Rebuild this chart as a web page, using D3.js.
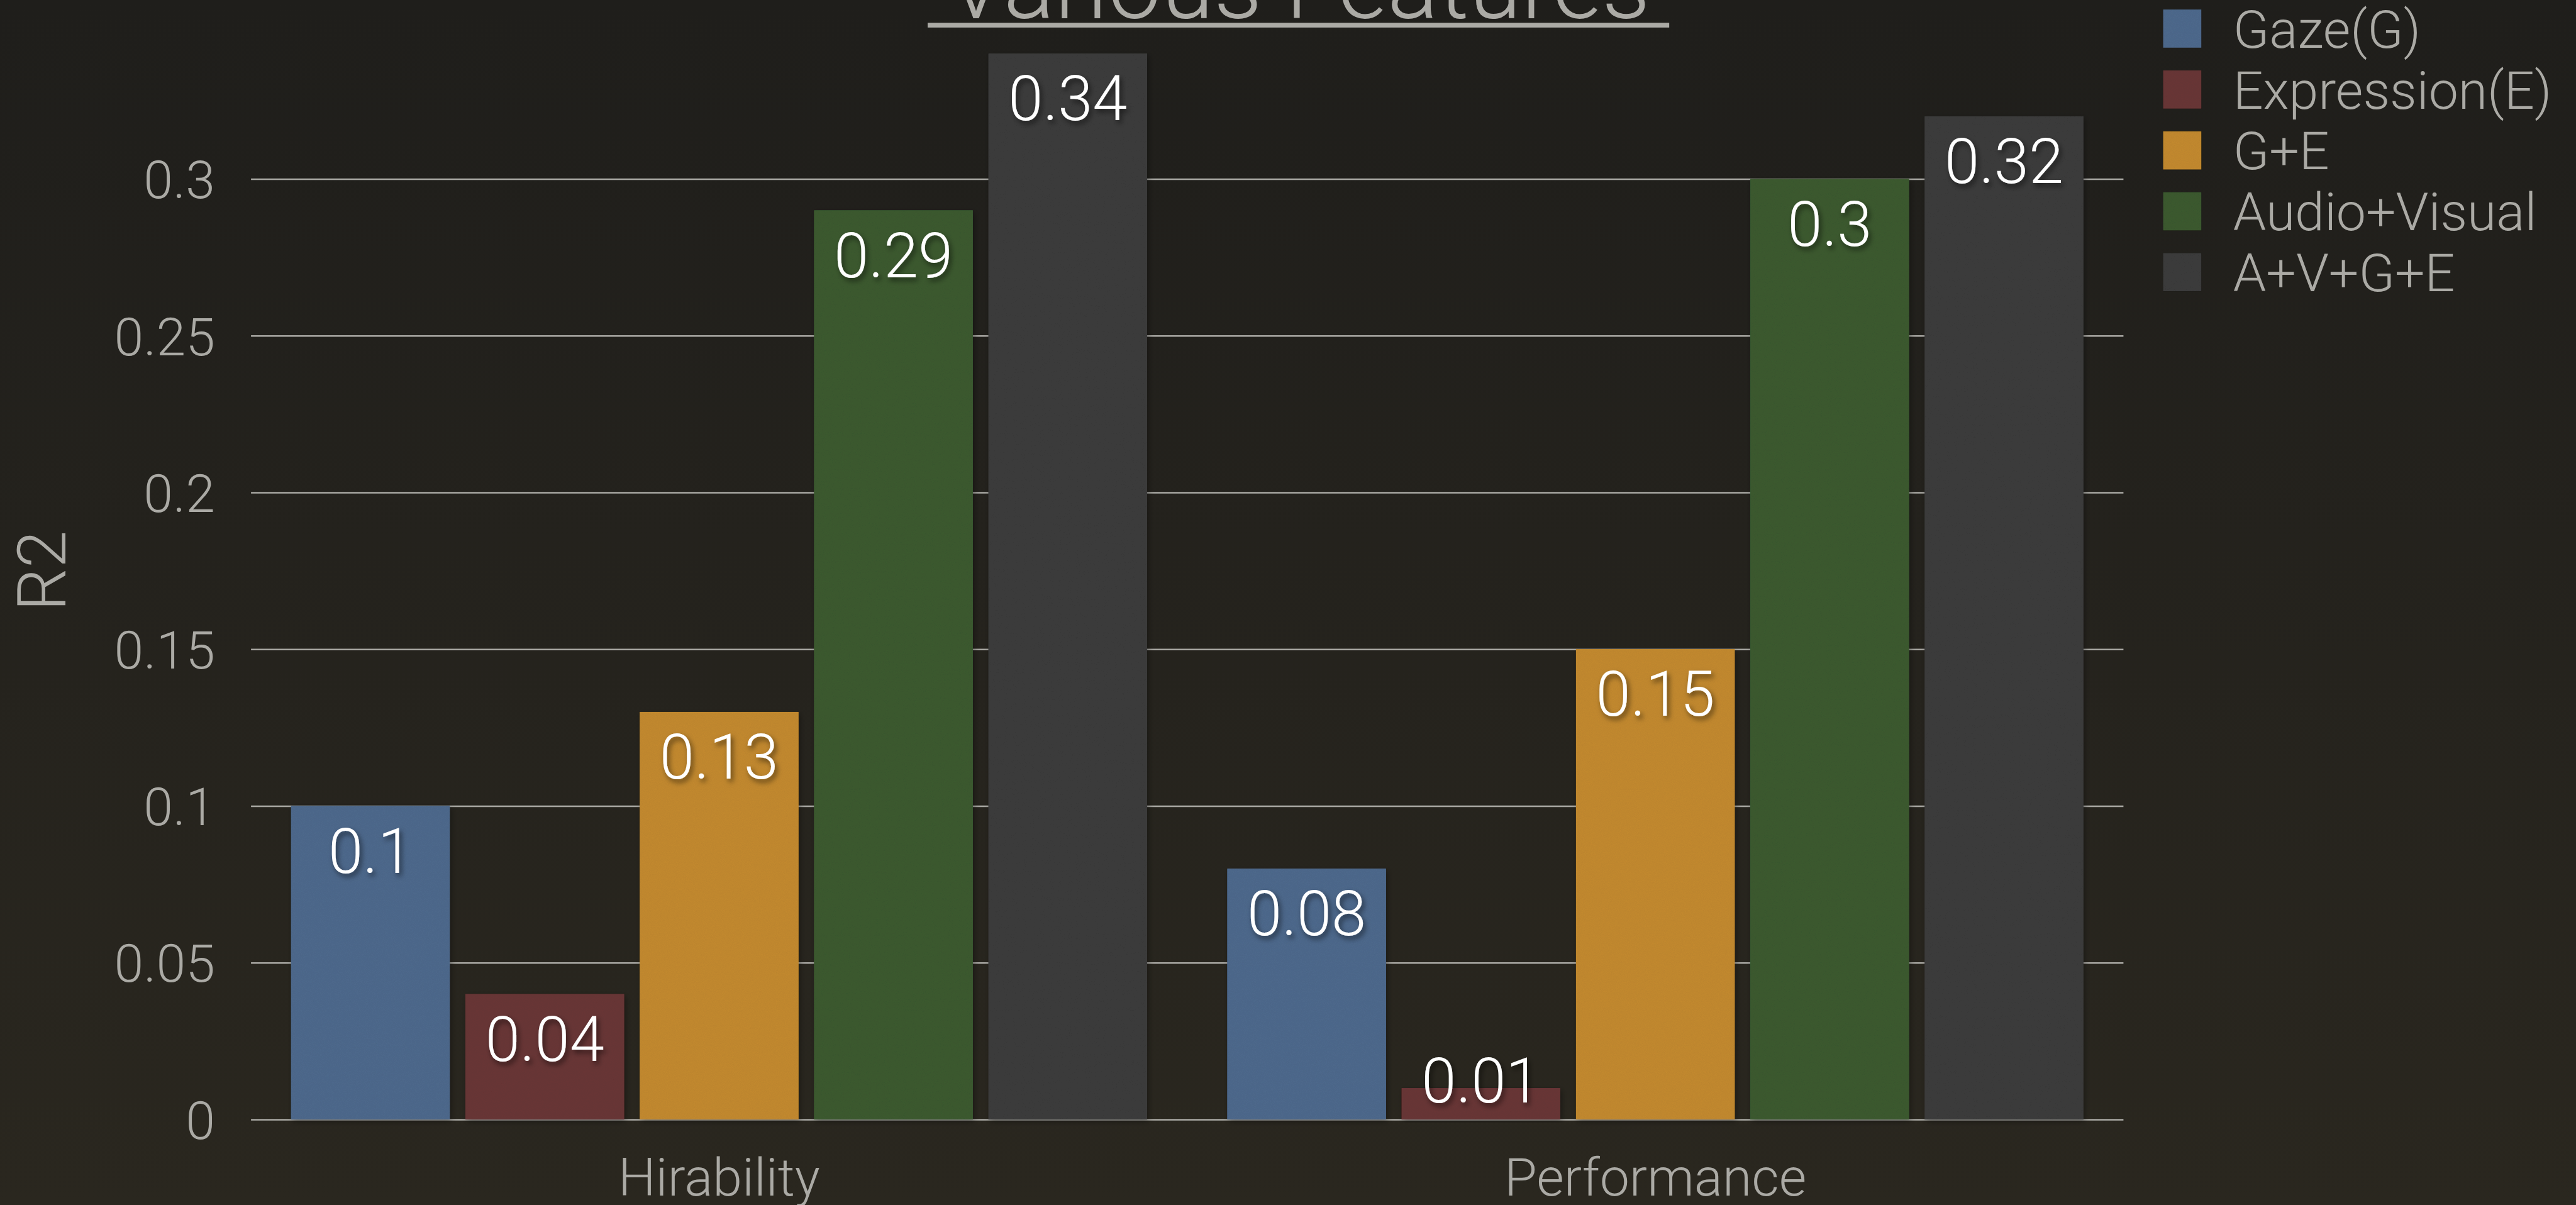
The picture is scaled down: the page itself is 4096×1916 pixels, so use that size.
<!DOCTYPE html>
<html>
<head>
<meta charset="utf-8">
<script src="https://cdn.jsdelivr.net/npm/d3@7"></script>
<style>
  html, body { margin: 0; padding: 0; background: #22211d; overflow: hidden; }
  svg { display: block; }
  text { font-family: Roboto, "Helvetica Neue", "Liberation Sans", sans-serif; font-weight: 300; }
</style>
</head>
<body>
<svg id="chart" width="4096" height="1916"></svg>
<script>
// chart data
var groups = ["Hirability", "Performance"];
var series = ["Gaze(G)", "Expression(E)", "G+E", "Audio+Visual", "A+V+G+E"];
var hirability = [0.1, 0.04, 0.13, 0.29, 0.34];
var performance = [0.08, 0.01, 0.15, 0.3, 0.32];
var seriesColors = ["#4f6a8e", "#6b3738", "#c58b31", "#3c5c33", "#3e3e3e"];
var yTicks = [0, 0.05, 0.1, 0.15, 0.2, 0.25, 0.3];
var title = "Various Features";
var yLabel = "R2";

var valuesByGroup = { "Hirability": hirability, "Performance": performance };

// everything is laid out in the reference's 4860x2273 space, then scaled down
var k = 0.842,
    plotLeft = 474, plotRight = 4010,
    plotTop = 338, plotBottom = 2114,
    textColor = "#abaaa5";

var svg = d3.select("#chart");
var defs = svg.append("defs");

var bg = defs.append("linearGradient").attr("id", "bg")
    .attr("x1", 0).attr("y1", 0).attr("x2", 0).attr("y2", 1);
bg.append("stop").attr("offset", "0%").attr("stop-color", "#1f1e1b");
bg.append("stop").attr("offset", "100%").attr("stop-color", "#2a271f");

var shadow = defs.append("filter").attr("id", "shadow")
    .attr("x", "-20%").attr("y", "-20%").attr("width", "140%").attr("height", "140%");
shadow.append("feDropShadow").attr("dx", 4).attr("dy", 6).attr("stdDeviation", 5)
    .attr("flood-color", "#000").attr("flood-opacity", 0.55);

var barShadow = defs.append("filter").attr("id", "barShadow")
    .attr("x", "-10%").attr("y", "-10%").attr("width", "120%").attr("height", "120%");
barShadow.append("feDropShadow").attr("dx", 3).attr("dy", 4).attr("stdDeviation", 6)
    .attr("flood-color", "#000").attr("flood-opacity", 0.35);

// paper-ish texture on the bars
var grain = defs.append("filter").attr("id", "grain");
grain.append("feTurbulence").attr("type", "fractalNoise").attr("baseFrequency", 0.9)
    .attr("numOctaves", 2).attr("seed", 3).attr("result", "noise");
grain.append("feColorMatrix").attr("in", "noise").attr("type", "matrix")
    .attr("values", "0 0 0 0 0  0 0 0 0 0  0 0 0 0 0  0 0 0 0.12 0").attr("result", "dark");
grain.append("feComposite").attr("in", "dark").attr("in2", "SourceGraphic").attr("operator", "in").attr("result", "dk");
grain.append("feMerge").selectAll("feMergeNode").data(["SourceGraphic", "dk"])
    .enter().append("feMergeNode").attr("in", function (d) { return d; });

svg.append("rect").attr("width", 4096).attr("height", 1916).attr("fill", "url(#bg)");

var g = svg.append("g").attr("transform", "scale(" + k + ")");

var x0 = d3.scaleBand()
    .domain(groups)
    .range([plotLeft, plotRight]);

var x1 = d3.scaleBand()
    .domain(series)
    .range([0, x0.bandwidth()])
    .paddingInner(0.09)
    .paddingOuter(0.23);

var y = d3.scaleLinear()
    .domain([0, 0.3])
    .range([plotBottom, plotTop]);

// grid + tick labels
var axis = g.append("g")
    .attr("transform", "translate(" + plotLeft + ",0)")
    .call(d3.axisLeft(y)
        .tickValues(yTicks)
        .tickSize(-(plotRight - plotLeft))
        .tickPadding(68)
        .tickFormat(function (d) { return String(d); }));

axis.select(".domain").remove();
axis.selectAll(".tick line")
    .attr("stroke", "#a9a8a3")
    .attr("stroke-width", 3);
axis.selectAll(".tick text")
    .attr("fill", textColor)
    .attr("font-size", 100)
    .attr("dy", "0.36em")
    .style("font-family", "Roboto, 'Helvetica Neue', sans-serif")
    .style("font-weight", 300);

// bars
var groupG = g.selectAll(".group")
    .data(groups)
    .enter().append("g")
    .attr("class", "group")
    .attr("transform", function (d) { return "translate(" + x0(d) + ",0)"; });

var bars = groupG.selectAll(".bar")
    .data(function (grp) {
        return series.map(function (s, i) { return { group: grp, key: s, i: i, value: valuesByGroup[grp][i] }; });
    })
    .enter().append("g").attr("class", "bar");

bars.append("rect")
    .attr("x", function (d) { return x1(d.key); })
    .attr("y", function (d) { return y(d.value); })
    .attr("width", x1.bandwidth())
    .attr("height", function (d) { return y(0) - y(d.value); })
    .attr("fill", function (d) { return seriesColors[d.i]; })
    .attr("filter", "url(#barShadow)");

bars.append("rect")
    .attr("x", function (d) { return x1(d.key); })
    .attr("y", function (d) { return y(d.value); })
    .attr("width", x1.bandwidth())
    .attr("height", function (d) { return y(0) - y(d.value); })
    .attr("fill", function (d) { return seriesColors[d.i]; })
    .attr("filter", "url(#grain)");

// baseline
g.append("line")
    .attr("x1", plotLeft).attr("x2", plotRight)
    .attr("y1", y(0)).attr("y2", y(0))
    .attr("stroke", "#a3a29d")
    .attr("stroke-width", 4)
    .attr("filter", "url(#shadow)");

// value labels, inside the top of each bar
bars.append("text")
    .attr("x", function (d) { return x1(d.key) + x1.bandwidth() / 2; })
    .attr("y", function (d) { return Math.min(y(d.value) + 126, y(0) - 32); })
    .attr("text-anchor", "middle")
    .attr("fill", "#ffffff")
    .attr("font-size", 118)
    .attr("filter", "url(#shadow)")
    .text(function (d) { return String(d.value); });

// category labels
g.selectAll(".cat")
    .data(groups)
    .enter().append("text")
    .attr("class", "cat")
    .attr("x", function (d) { return x0(d) + x0.bandwidth() / 2; })
    .attr("y", 2258)
    .attr("text-anchor", "middle")
    .attr("fill", textColor)
    .attr("font-size", 100)
    .text(function (d) { return d; });

// y axis title
g.append("text")
    .attr("transform", "translate(124,1078) rotate(-90)")
    .attr("text-anchor", "middle")
    .attr("fill", textColor)
    .attr("font-size", 128)
    .text(yLabel);

// title, pushed partly off the top like the slide
var titleText = g.append("text")
    .attr("x", 2452)
    .attr("y", 35)
    .attr("text-anchor", "middle")
    .attr("fill", textColor)
    .attr("font-size", 180)
    .text(title);

var tw = titleText.node().getComputedTextLength();
g.append("rect")
    .attr("x", 2452 - tw / 2 - 36)
    .attr("y", 43)
    .attr("width", tw + 72)
    .attr("height", 9)
    .attr("fill", textColor);

// legend
var legend = g.selectAll(".legend")
    .data(series)
    .enter().append("g")
    .attr("class", "legend")
    .attr("transform", function (d, i) { return "translate(4085," + (18 + i * 115) + ")"; });

legend.append("rect")
    .attr("width", 72)
    .attr("height", 72)
    .attr("fill", function (d, i) { return seriesColors[i]; })
    .attr("filter", "url(#grain)");

legend.append("text")
    .attr("x", 132)
    .attr("y", 72)
    .attr("fill", textColor)
    .attr("font-size", 100)
    .text(function (d) { return d; });
</script>
</body>
</html>
